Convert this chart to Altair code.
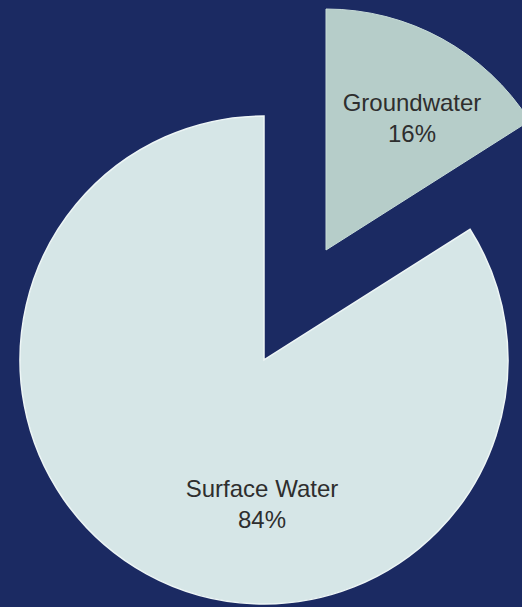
import altair as alt
import pandas as pd
import math

categories = ["Groundwater", "Surface Water"]
values = [16, 84]
labels = ["16%", "84%"]

df = pd.DataFrame({"category": categories, "value": values, "label": labels})

base = alt.Chart(df).transform_window(
    end="sum(value)", frame=[None, 0]
).transform_calculate(start="datum.end - datum.value")

theta_scale = alt.Scale(domain=[0, 100], range=[0, 2 * math.pi])

surface = base.transform_filter(alt.datum.category == "Surface Water").mark_arc(
    radius=244, fill="#d6e6e7", stroke="#eef6f6", strokeWidth=1.5
).encode(
    theta=alt.Theta("start:Q", scale=theta_scale),
    theta2="end:Q",
    x=alt.value(264),
    y=alt.value(360),
)

ground = base.transform_filter(alt.datum.category == "Groundwater").mark_arc(
    radius=241, fill="#b6cdc9", stroke="#c8dcd8", strokeWidth=1
).encode(
    theta=alt.Theta("start:Q", scale=theta_scale),
    theta2="end:Q",
    x=alt.value(326),
    y=alt.value(250),
)

txt_ground = base.transform_filter(alt.datum.category == "Groundwater").transform_calculate(
    t="[datum.category, datum.label]"
).mark_text(
    font="Liberation Sans", fontSize=24, color="#2e2e2e", lineHeight=31,
    baseline="middle", align="center"
).encode(
    text="t:N", x=alt.value(412), y=alt.value(104)
)

txt_surface = base.transform_filter(alt.datum.category == "Surface Water").transform_calculate(
    t="[datum.category, datum.label]"
).mark_text(
    font="Liberation Sans", fontSize=24, color="#2e2e2e", lineHeight=31,
    baseline="middle", align="center"
).encode(
    text="t:N", x=alt.value(262), y=alt.value(490)
)

chart = alt.layer(surface, ground, txt_ground, txt_surface).properties(
    width=522, height=607, background="#1b2a62", padding=0,
    autosize=alt.AutoSizeParams(type="none")
).configure_view(stroke=None)

chart.save("out.html", embed_options={"renderer": "svg", "actions": False})
